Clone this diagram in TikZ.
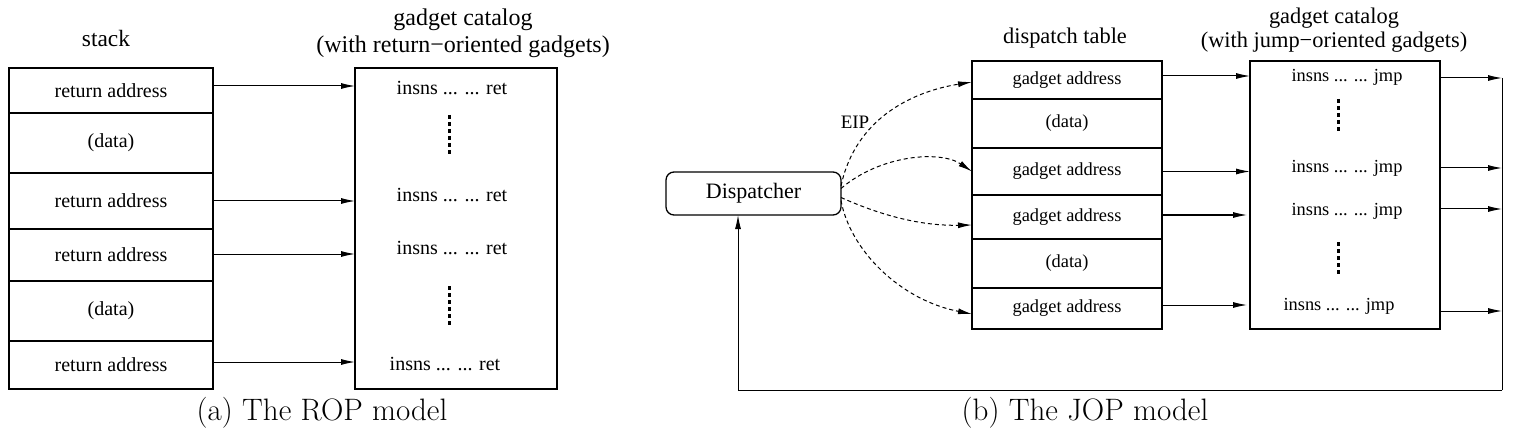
\documentclass[tikz,border=0pt]{standalone}
\usepackage{fontspec}
\newfontfamily\tms{Liberation Serif}
\usetikzlibrary{arrows.meta}
\begin{document}
\begin{tikzpicture}[x=0.5pt,y=-0.5pt,
  box/.style={draw, line width=0.65pt, inner sep=0pt, outer sep=0pt, anchor=north west},
  scell/.style={box, minimum width=102pt, font=\tms\fontsize{10}{12}\selectfont},
  tcell/.style={box, minimum width=95pt, font=\tms\fontsize{9.2}{11}\selectfont},
  rtxt/.style={inner sep=0pt, font=\tms\fontsize{10}{12}\selectfont},
  jtxt/.style={inner sep=0pt, font=\tms\fontsize{9.2}{11}\selectfont},
  ttl/.style={inner sep=0pt, align=center},
  captxt/.style={inner sep=0pt, font=\fontsize{15.5}{18}\selectfont},
  arr/.style={-{Latex[length=7pt,width=3pt]}, line width=0.5pt},
  darr/.style={arr, dash pattern=on 2pt off 1.5pt},
  vdots/.style={line width=1.5pt, dash pattern=on 2pt off 1.5pt}
]
\useasboundingbox (0,0) rectangle (1518,443);

% ---------- (a) ROP ----------
\node[ttl, font=\tms\fontsize{11.7}{13}\selectfont] (stt) at (106,38) {stack};
\node[ttl, font=\tms\fontsize{12}{13.5}\selectfont] (rct) at (463,33.5) {gadget catalog\\(with return−oriented gadgets)};

\node[scell, minimum height=22.5pt] (s1) at (9,68) {return address};
\node[scell, minimum height=30pt] (s2) at (9,113) {(data)};
\node[scell, minimum height=28pt] (s3) at (9,173) {return address};
\node[scell, minimum height=26pt] (s4) at (9,229) {return address};
\node[scell, minimum height=30pt] (s5) at (9,281) {(data)};
\node[scell, minimum height=24pt] (s6) at (9,341) {return address};

\node[box, minimum width=101pt, minimum height=160.5pt] (rc) at (355,68) {};
\node[rtxt] (g1) at (452,88) {insns ... ... ret};
\node[rtxt] (g2) at (452,195) {insns ... ... ret};
\node[rtxt] (g3) at (452,248) {insns ... ... ret};
\node[rtxt] (g4) at (445,364) {insns ... ... ret};
\draw[vdots] (449,115) -- (449,155);
\draw[vdots] (449,286) -- (449,327);

\draw[arr] ([yshift=2.25pt]s1.east) -- ([yshift=2.25pt]s1.east -| rc.west);
\draw[arr] (s3.east) -- (s3.east -| rc.west);
\draw[arr] ([yshift=0.5pt]s4.east) -- ([yshift=0.5pt]s4.east -| rc.west);
\draw[arr] ([yshift=1.5pt]s6.east) -- ([yshift=1.5pt]s6.east -| rc.west);

\node[captxt] (capa) at (322,413) {(a) The ROP model};

% ---------- (b) JOP ----------
\node[ttl, font=\tms\fontsize{11.2}{12.5}\selectfont] (dtt) at (1065,38) {dispatch table};
\node[ttl, font=\tms\fontsize{11.2}{12}\selectfont] (jct) at (1334,30) {gadget catalog\\(with jump−oriented gadgets)};

\node[box, rounded corners=4pt, minimum width=87.5pt, minimum height=21.5pt, font=\tms\fontsize{11}{13}\selectfont] (disp) at (666,172) {Dispatcher};

\node[tcell, minimum height=19pt] (t1) at (972,61) {gadget address};
\node[tcell, minimum height=24.5pt] (t2) at (972,99) {(data)};
\node[tcell, minimum height=23.5pt] (t3) at (972,148) {gadget address};
\node[tcell, minimum height=22pt] (t4) at (972,195) {gadget address};
\node[tcell, minimum height=24.5pt] (t5) at (972,239) {(data)};
\node[tcell, minimum height=20.5pt] (t6) at (972,288) {gadget address};

\node[box, minimum width=95pt, minimum height=134pt] (jc) at (1250,61) {};
\node[jtxt] (j1) at (1347,77) {insns ... ... jmp};
\node[jtxt] (j2) at (1347,168) {insns ... ... jmp};
\node[jtxt] (j3) at (1347,211) {insns ... ... jmp};
\node[jtxt] (j4) at (1339,306) {insns ... ... jmp};
\draw[vdots] (1338,99) -- (1338,133);
\draw[vdots] (1338,242) -- (1338,276);

\draw[arr] ([yshift=2pt]t1.east) -- ([yshift=2pt]t1.east -| jc.west);
\draw[arr] (t3.east) -- (t3.east -| jc.west);
\draw[arr, shorten >=1.5pt] ([yshift=1pt]t4.east) -- ([yshift=1pt]t4.east -| jc.west);
\draw[arr, shorten >=1.5pt] ([yshift=1.75pt]t6.east) -- ([yshift=1.75pt]t6.east -| jc.west);

\node[inner sep=0pt, font=\tms\fontsize{9.5}{11}\selectfont] (eip) at (855,122) {EIP};
\draw[darr] ([yshift=3.75pt]disp.east) .. controls (855,120) and (910,92) .. ([yshift=-1pt]t1.west);
\draw[darr] ([yshift=2.5pt]disp.east) .. controls (880,155) and (940,150) .. (t3.west);
\draw[darr] ([yshift=-2pt]disp.east) .. controls (880,215) and (920,226) .. ([yshift=-4pt]t4.west);
\draw[darr] ([yshift=-3.5pt]disp.east) .. controls (850,250) and (900,300) .. ([yshift=-2.75pt]t6.west);

\coordinate (o1) at (1502,78);
\coordinate (o2) at (1502,168);
\coordinate (o3) at (1502,209);
\coordinate (o4) at (1502,311);
\coordinate (loop) at (1502,390);
\draw[arr] (o1 -| jc.east) -- (o1);
\draw[arr] (o2 -| jc.east) -- (o2);
\draw[arr] (o3 -| jc.east) -- (o3);
\draw[arr] (o4 -| jc.east) -- (o4);
\draw[line width=0.5pt] (o1) -- (loop);
\draw[arr] (loop) -| ([xshift=-7.75pt]disp.south);

\node[captxt] (capb) at (1085,413) {(b) The JOP model};
\end{tikzpicture}
\end{document}
